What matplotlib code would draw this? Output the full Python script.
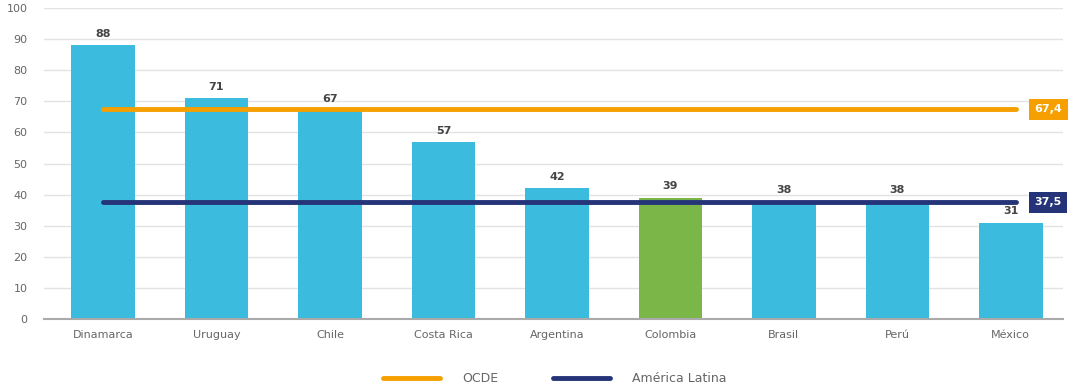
import numpy as np
import matplotlib
matplotlib.use("Agg")
import matplotlib.pyplot as plt
from matplotlib.lines import Line2D

countries = ["Dinamarca", "Uruguay", "Chile", "Costa Rica", "Argentina",
             "Colombia", "Brasil", "Perú", "México"]
values = [88, 71, 67, 57, 42, 39, 38, 38, 31]
ocde = 67.4
latam = 37.5

cyan = "#3bbbdd"
green = "#7ab648"
orange = "#f5a000"
navy = "#253478"
gray = "#666666"

fig = plt.figure(figsize=(10.73, 3.88), dpi=100)
ax = fig.add_axes([44 / 1073, 1 - 319 / 388, (1063 - 44) / 1073, (319 - 8) / 388])

x = np.arange(len(countries))
colors = [green if c == "Colombia" else cyan for c in countries]
ax.bar(x, values, width=0.56, color=colors, zorder=2)

for xi, v in zip(x, values):
    ax.text(xi, v + 2, str(v), ha="center", va="bottom", fontsize=8,
            fontweight="bold", color="#444444")

ax.plot([0, 8.05], [ocde, ocde], color=orange, lw=3.5, solid_capstyle="round", zorder=3)
ax.plot([0, 8.05], [latam, latam], color=navy, lw=3.5, solid_capstyle="round", zorder=3)

for val, col in [(ocde, orange), (latam, navy)]:
    ax.text(8.33, val, str(val).replace(".", ","), ha="center", va="center",
            fontsize=8, fontweight="bold", color="white", zorder=4,
            bbox=dict(boxstyle="square,pad=0.5", fc=col, ec="none"))

ax.set_xlim(-0.52, 8.46)
ax.set_ylim(0, 100)
ax.set_yticks(range(0, 101, 10))
ax.set_xticks(x)
ax.set_xticklabels(countries)
ax.tick_params(axis="both", length=0, labelsize=8, colors=gray)
ax.tick_params(axis="x", pad=8)
ax.tick_params(axis="y", pad=12)
ax.grid(axis="y", color="#e3e3e3", lw=1, zorder=0)
for s in ["top", "right", "left"]:
    ax.spines[s].set_visible(False)
ax.spines["bottom"].set_color("#aaaaaa")
ax.spines["bottom"].set_linewidth(1.5)

handles = [Line2D([], [], color=orange, lw=3.5, solid_capstyle="round"),
           Line2D([], [], color=navy, lw=3.5, solid_capstyle="round")]
fig.legend(handles, ["OCDE", "América Latina"], loc="center",
           bbox_to_anchor=(555 / 1073, 1 - 379 / 388), ncol=2, frameon=False,
           fontsize=9, labelcolor=gray, handlelength=4.5, columnspacing=4.4,
           handletextpad=1.8)

fig.savefig("out.png", dpi=100)
